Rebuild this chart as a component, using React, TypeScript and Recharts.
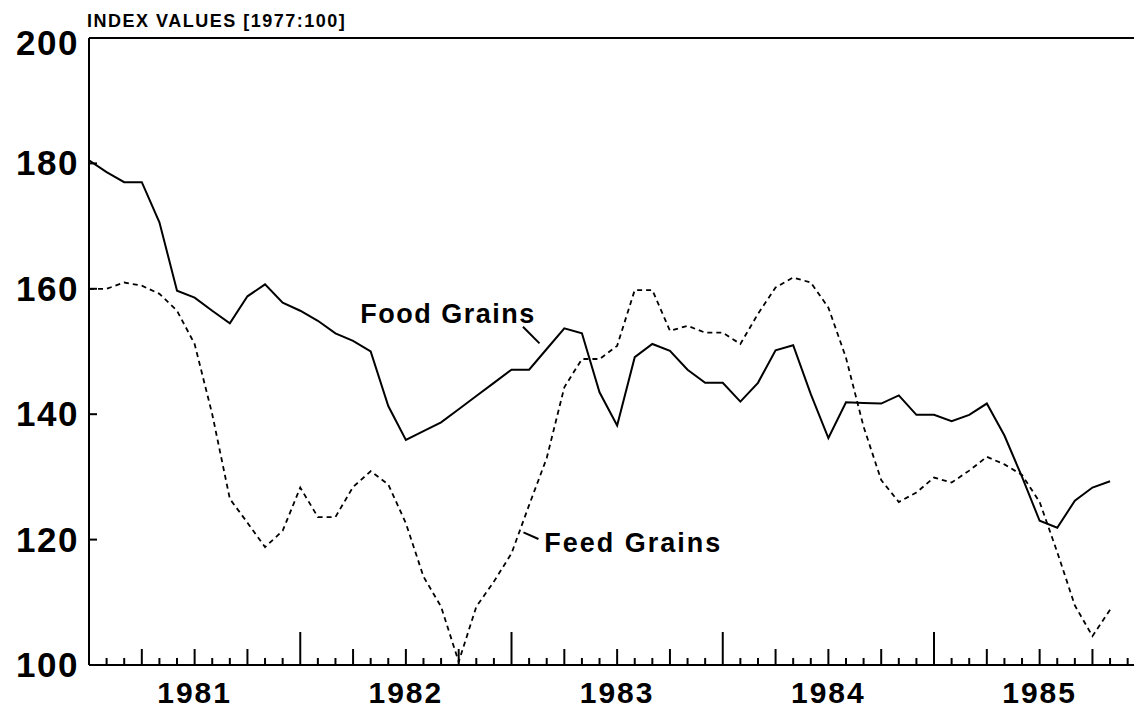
import React from 'react';
import { LineChart, Line, XAxis, YAxis, ReferenceLine, ReferenceDot } from 'recharts';

// Monthly index values, Jan 1981 (month 0) through Nov 1985 (month 58)
const foodGrains = [
  180.5, 178.6, 177, 177, 170.6, 159.7, 158.6, 156.5, 154.5, 158.8, 160.7, 157.8,
  156.5, 154.9, 152.9, 151.7, 150, 141.3, 135.9, 137.3, 138.7, 140.8, 142.9, 145,
  147.1, 147.1, 150.4, 153.7, 152.9, 143.5, 138.2, 149.1, 151.2, 150.1, 147.1, 145,
  145, 142, 145, 150.2, 151, 143.2, 136.2, 141.9, 141.8, 141.7, 143, 139.9,
  139.9, 138.9, 139.9, 141.7, 136.6, 130, 123, 121.9, 126.2, 128.3, 129.3,
];
const feedGrains = [
  160, 160, 161, 160.5, 159.2, 156.5, 151.2, 140, 126.5, 122.7, 118.8, 121.4,
  128.3, 123.6, 123.6, 128.4, 130.9, 128.8, 122.6, 114.1, 109.3, 100.5, 109.3, 113.3,
  117.8, 125.5, 133, 144.3, 148.8, 148.8, 150.9, 159.8, 159.8, 153.3, 154.1, 153,
  153, 151.2, 156, 160.2, 161.8, 161, 157, 149, 138, 129.5, 126, 127.5,
  129.9, 129.1, 131, 133.2, 132, 130.3, 126, 118, 109.5, 104.6, 108.8,
];
const yearLabels = ['1981', '1982', '1983', '1984', '1985'];
const yTicks = [100, 120, 140, 160, 180, 200];
const rightTicks = [120, 140, 160, 180];
const monthTicks = Array.from({ length: 60 }, (_, i) => i);

const data = foodGrains.map((f, i) => ({ m: i, food: f, feed: feedGrains[i] }));

const FONT = '"Liberation Sans", Arial, Helvetica, sans-serif';

const XTick = (props: any) => {
  const { x, y, payload } = props;
  const m = payload.value as number;
  let len = 7;
  if (m % 12 === 0) len = 33;
  else if (m % 3 === 0) len = 16;
  const label = m % 12 === 6 ? yearLabels[(m - 6) / 12] : null;
  return (
    <g>
      {m > 0 && <line x1={x} y1={y} x2={x} y2={y - len} stroke="#000" strokeWidth={2} />}
      {label && (
        <text x={x} y={y + 38} textAnchor="middle" fontSize={30} fontWeight="bold" fontFamily={FONT} letterSpacing={2} fill="#000">
          {label}
        </text>
      )}
    </g>
  );
};

const LeftTick = (props: any) => {
  const { x, y, payload } = props;
  const v = payload.value as number;
  return (
    <g>
      {v > 100 && v < 200 && <line x1={x} y1={y} x2={x + 8} y2={y} stroke="#000" strokeWidth={2} />}
      <text x={x - 10} y={y + 12 + (v === 200 ? 5 : 0)} textAnchor="end" fontSize={35} fontWeight="bold" fontFamily={FONT} letterSpacing={1.5} fill="#000">
        {v}
      </text>
    </g>
  );
};

const RightTick = (props: any) => {
  const { x, y } = props;
  return <line x1={x - 2} y1={y} x2={x + 5} y2={y} stroke="#000" strokeWidth={2} />;
};

const textLabel = (txt: string, spacing: number) => (props: any) => {
  const vb = props.viewBox || {};
  return (
    <text x={vb.x} y={vb.y} fontSize={27} fontWeight="bold" fontFamily={FONT} letterSpacing={spacing} fill="#000">
      {txt}
    </text>
  );
};

export default function App() {
  return (
    <div style={{ position: 'absolute', left: 0, top: 0, background: '#fff' }}>
      <LineChart width={1139} height={709} data={data} margin={{ top: 38, right: 5, bottom: 0, left: 9 }}>
        <text x={87} y={27} fontSize={18} fontWeight="bold" fontFamily={FONT} letterSpacing={1.5} fill="#000">
          INDEX VALUES [1977:100]
        </text>
        <XAxis
          dataKey="m"
          type="number"
          domain={[0, 59.36]}
          ticks={monthTicks}
          interval={0}
          height={44}
          tickSize={0}
          tickMargin={0}
          tickLine={false}
          axisLine={{ stroke: '#000', strokeWidth: 2 }}
          tick={<XTick />}
          allowDataOverflow
        />
        <YAxis
          yAxisId="left"
          type="number"
          domain={[100, 200]}
          ticks={yTicks}
          interval={0}
          width={80}
          tickSize={0}
          tickMargin={0}
          tickLine={false}
          axisLine={{ stroke: '#000', strokeWidth: 2 }}
          tick={<LeftTick />}
        />
        <YAxis
          yAxisId="right"
          orientation="right"
          type="number"
          domain={[100, 200]}
          ticks={rightTicks}
          interval={0}
          width={0}
          tickSize={0}
          tickMargin={0}
          tickLine={false}
          axisLine={false}
          tick={<RightTick />}
        />
        <ReferenceLine yAxisId="left" y={200} stroke="#000" strokeWidth={2} />
        <Line
          yAxisId="left"
          type="linear"
          dataKey="feed"
          stroke="#000"
          strokeWidth={1.8}
          strokeDasharray="5 4"
          dot={false}
          isAnimationActive={false}
        />
        <Line
          yAxisId="left"
          type="linear"
          dataKey="food"
          stroke="#000"
          strokeWidth={2}
          dot={false}
          isAnimationActive={false}
        />
        <ReferenceLine
          yAxisId="left"
          segment={[{ x: 24.65, y: 153.95 }, { x: 25.59, y: 151.3 }]}
          stroke="#000"
          strokeWidth={2}
        />
        <ReferenceLine
          yAxisId="left"
          segment={[{ x: 24.68, y: 121.15 }, { x: 25.53, y: 120.1 }]}
          stroke="#000"
          strokeWidth={2}
        />
        <ReferenceDot yAxisId="left" x={15.41} y={154.6} r={0} fill="none" stroke="none" label={textLabel('Food Grains', 1.5)} />
        <ReferenceDot yAxisId="left" x={25.86} y={118.0} r={0} fill="none" stroke="none" label={textLabel('Feed Grains', 2)} />
      </LineChart>
    </div>
  );
}
